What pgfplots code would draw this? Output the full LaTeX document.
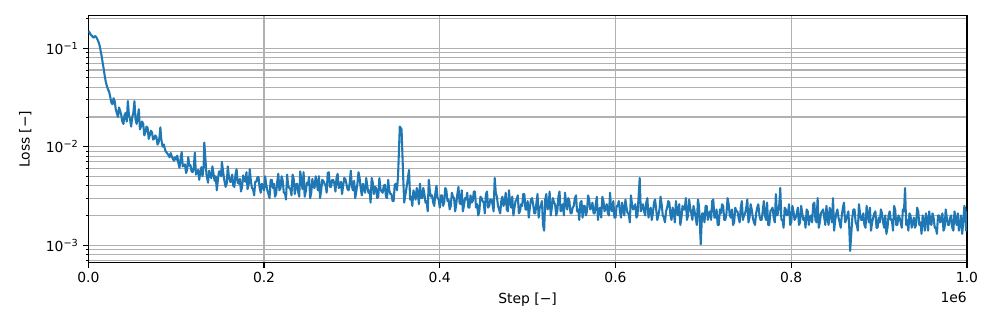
\documentclass[border=0pt]{standalone}
\usepackage{fontspec}
\setmainfont{DejaVu Sans}
\usepackage{pgfplots}
\pgfplotsset{compat=1.18}
\definecolor{mplblue}{HTML}{1F77B4}
\definecolor{mplgrid}{HTML}{B0B0B0}

% training loss, step in units of 1e6
\pgfplotstableread{
x y
0 0.150
0.00125 0.145
0.0025 0.138
0.00375 0.135
0.005 0.130
0.00625 0.128
0.0075 0.133
0.00875 0.131
0.010 0.125
0.01125 0.118
0.0125 0.110
0.01375 0.097
0.015 0.085
0.01625 0.072
0.0175 0.062
0.01875 0.052
0.020 0.045
0.02125 0.041
0.0225 0.038
0.02375 0.036
0.025 0.032
0.02625 0.028
0.0275 0.027
0.02875 0.031
0.030 0.029
0.03125 0.024
0.0325 0.022
0.03375 0.020
0.035 0.025
0.03625 0.023
0.0375 0.021
0.03875 0.018
0.040 0.017
0.04125 0.021
0.0425 0.022
0.04375 0.018
0.045 0.029
0.04625 0.021
0.0475 0.019
0.04875 0.016
0.050 0.020
0.05125 0.022
0.0525 0.029
0.05375 0.019
0.055 0.017
0.05625 0.020
0.0575 0.024
0.05875 0.015
0.060 0.016
0.06125 0.018
0.0625 0.017
0.06375 0.013
0.065 0.014
0.06625 0.016
0.0675 0.0155
0.06875 0.012
0.070 0.013
0.07125 0.0145
0.0725 0.014
0.07375 0.0118
0.075 0.012
0.07625 0.013
0.0775 0.0125
0.07875 0.0105
0.080 0.011
0.081 0.0125
0.082 0.0157
0.083 0.012
0.0845 0.0100
0.086 0.0105
0.0875 0.0092
0.08875 0.0088
0.090 0.0085
0.09125 0.0082
0.0925 0.0078
0.09375 0.0086
0.095 0.0080
0.09625 0.0075
0.0975 0.0072
0.09875 0.0078
0.100 0.0074
0.10125 0.0081
0.1025 0.0068
0.10375 0.0061
0.105 0.0075
0.10625 0.0088
0.1075 0.0063
0.10875 0.0065
0.110 0.0066
0.11125 0.0054
0.1125 0.0058
0.11375 0.0078
0.115 0.0064
0.11625 0.0065
0.1175 0.0056
0.11875 0.0055
0.120 0.0061
0.12125 0.0087
0.1225 0.0052
0.12375 0.0055
0.125 0.0058
0.12625 0.0046
0.1275 0.0055
0.12875 0.0062
0.130 0.0050
0.13125 0.0063
0.132 0.0110
0.1345 0.0052
0.13625 0.0043
0.1375 0.0057
0.13875 0.0050
0.140 0.0048
0.14125 0.0063
0.1425 0.0053
0.14375 0.0045
0.145 0.0050
0.14625 0.0036
0.1475 0.0046
0.14875 0.0056
0.150 0.0056
0.15125 0.0050
0.152 0.0070
0.1545 0.0047
0.15625 0.0039
0.1575 0.0042
0.15875 0.0063
0.160 0.0050
0.16125 0.0044
0.1625 0.0044
0.16375 0.0052
0.165 0.0040
0.16625 0.0039
0.1675 0.0052
0.16875 0.0059
0.170 0.0043
0.17125 0.0042
0.1725 0.0047
0.17375 0.0035
0.175 0.0039
0.17625 0.0051
0.1775 0.0046
0.17875 0.0044
0.180 0.0055
0.18125 0.0037
0.1825 0.0041
0.18375 0.0059
0.185 0.0045
0.18625 0.0038
0.1875 0.0037
0.18875 0.0032
0.190 0.0044
0.19125 0.0044
0.1925 0.0049
0.19375 0.0049
0.195 0.0038
0.19625 0.0034
0.1975 0.0042
0.19875 0.0039
0.200 0.0036
0.20125 0.0050
0.2025 0.0041
0.20375 0.0036
0.205 0.0033
0.20625 0.0030
0.2075 0.0046
0.20875 0.0046
0.210 0.0038
0.21125 0.0042
0.2125 0.0031
0.21375 0.0033
0.215 0.0044
0.21625 0.0053
0.2175 0.0036
0.21875 0.0038
0.220 0.0050
0.22125 0.0045
0.2225 0.0034
0.22375 0.0034
0.225 0.0029
0.22625 0.0052
0.2275 0.0040
0.22875 0.0038
0.230 0.0037
0.23125 0.0032
0.2325 0.0052
0.23375 0.0047
0.235 0.0033
0.23625 0.0041
0.2375 0.0042
0.23875 0.0035
0.240 0.0031
0.24125 0.0056
0.2425 0.0045
0.24375 0.0037
0.245 0.0055
0.24625 0.0031
0.2475 0.0035
0.24875 0.0043
0.250 0.0041
0.25125 0.0049
0.2525 0.0030
0.25375 0.0034
0.255 0.0047
0.25625 0.0039
0.2575 0.0038
0.25875 0.0050
0.260 0.0043
0.26125 0.0036
0.2625 0.0050
0.26375 0.0030
0.265 0.0036
0.26625 0.0046
0.2675 0.0045
0.26875 0.0042
0.270 0.0041
0.27125 0.0034
0.2725 0.0054
0.27375 0.0055
0.275 0.0039
0.27625 0.0039
0.2775 0.0046
0.27875 0.0046
0.280 0.0042
0.28125 0.0035
0.2825 0.0048
0.28375 0.0053
0.285 0.0038
0.28625 0.0039
0.2875 0.0044
0.28875 0.0033
0.290 0.0040
0.29125 0.0048
0.2925 0.0047
0.29375 0.0042
0.295 0.0037
0.29625 0.0036
0.2975 0.0043
0.29875 0.0057
0.300 0.0039
0.30125 0.0036
0.3025 0.0045
0.30375 0.0030
0.305 0.0035
0.30625 0.0042
0.3075 0.0055
0.30875 0.0048
0.310 0.0038
0.31125 0.0032
0.3125 0.0042
0.31375 0.0037
0.315 0.0034
0.31625 0.0048
0.3175 0.0040
0.31875 0.0034
0.320 0.0036
0.32125 0.0027
0.3225 0.0048
0.32375 0.0043
0.325 0.0033
0.32625 0.0039
0.3275 0.0038
0.32875 0.0030
0.330 0.0031
0.33125 0.0048
0.3325 0.0037
0.33375 0.0035
0.335 0.0034
0.33625 0.0040
0.3375 0.0041
0.33875 0.0031
0.340 0.0030
0.34125 0.0046
0.3425 0.0036
0.34375 0.0033
0.345 0.0033
0.34625 0.0028
0.3475 0.0028
0.34875 0.0041
0.350 0.0042
0.35125 0.0036
0.3525 0.0050
0.3545 0.0160
0.3565 0.0150
0.3585 0.0045
0.3595 0.0027
0.361 0.0033
0.363 0.0043
0.365 0.0058
0.36625 0.0029
0.3675 0.0031
0.36875 0.0025
0.370 0.0036
0.37125 0.0033
0.3725 0.0029
0.37375 0.0038
0.375 0.0034
0.37625 0.0026
0.3775 0.0042
0.37875 0.0030
0.380 0.0030
0.38125 0.0038
0.3825 0.0033
0.38375 0.0027
0.385 0.0028
0.38625 0.0022
0.3875 0.0046
0.38875 0.0035
0.390 0.0031
0.39125 0.0032
0.3925 0.0027
0.39375 0.0025
0.395 0.0034
0.39625 0.0040
0.3975 0.0030
0.39875 0.0029
0.400 0.0024
0.40125 0.0032
0.4025 0.0032
0.40375 0.0025
0.405 0.0027
0.40625 0.0038
0.4075 0.0036
0.40875 0.0028
0.410 0.0029
0.41125 0.0023
0.4125 0.0025
0.41375 0.0034
0.415 0.0031
0.41625 0.0030
0.4175 0.0022
0.41875 0.0026
0.420 0.0033
0.42125 0.0039
0.4225 0.0027
0.42375 0.0026
0.425 0.0036
0.42625 0.0022
0.4275 0.0025
0.42875 0.0030
0.430 0.0029
0.43125 0.0034
0.4325 0.0024
0.43375 0.0024
0.435 0.0032
0.43625 0.0027
0.4375 0.0028
0.43875 0.0035
0.440 0.0035
0.44125 0.0024
0.4425 0.0026
0.44375 0.0020
0.445 0.0022
0.44625 0.0031
0.4475 0.0030
0.44875 0.0028
0.450 0.0027
0.45125 0.0021
0.4525 0.0033
0.45375 0.0035
0.455 0.0024
0.45625 0.0025
0.4575 0.0029
0.45875 0.0029
0.460 0.0026
0.46125 0.0022
0.4625 0.0048
0.46375 0.0034
0.465 0.0031
0.46625 0.0025
0.4675 0.0023
0.46875 0.0021
0.470 0.0028
0.47125 0.0031
0.4725 0.0025
0.47375 0.0027
0.475 0.0034
0.47625 0.0023
0.4775 0.0022
0.47875 0.0036
0.480 0.0027
0.48125 0.0024
0.4825 0.0031
0.48375 0.0020
0.485 0.0024
0.48625 0.0028
0.4875 0.0029
0.48875 0.0032
0.490 0.0021
0.49125 0.0022
0.4925 0.0026
0.49375 0.0025
0.495 0.0033
0.49625 0.0033
0.4975 0.0023
0.49875 0.0023
0.500 0.0028
0.50125 0.0019
0.5025 0.0024
0.50375 0.0029
0.505 0.0030
0.50625 0.0026
0.5075 0.0021
0.50875 0.0021
0.510 0.0027
0.51125 0.0033
0.5125 0.0019
0.51375 0.0024
0.515 0.0025
0.51625 0.0028
0.5175 0.0016
0.51875 0.0014
0.520 0.0029
0.52125 0.0033
0.5225 0.0023
0.52375 0.0024
0.525 0.0035
0.52625 0.0020
0.5275 0.0024
0.52875 0.0030
0.530 0.0027
0.53125 0.0026
0.5325 0.0020
0.53375 0.0022
0.535 0.0031
0.53625 0.0035
0.5375 0.0022
0.53875 0.0023
0.540 0.0026
0.54125 0.0020
0.5425 0.0034
0.54375 0.0027
0.545 0.0023
0.54625 0.0030
0.5475 0.0028
0.54875 0.0021
0.550 0.0021
0.55125 0.0024
0.5525 0.0025
0.55375 0.0030
0.555 0.0032
0.55625 0.0022
0.5575 0.0023
0.55875 0.0018
0.560 0.0027
0.56125 0.0028
0.5625 0.0019
0.56375 0.0025
0.565 0.0025
0.56625 0.0020
0.5675 0.0022
0.56875 0.0032
0.570 0.0029
0.57125 0.0023
0.5725 0.0024
0.57375 0.0027
0.575 0.0021
0.57625 0.0021
0.5775 0.0026
0.57875 0.0031
0.580 0.0018
0.58125 0.0023
0.5825 0.0024
0.58375 0.0019
0.585 0.0031
0.58625 0.0028
0.5875 0.0022
0.58875 0.0024
0.590 0.0026
0.59125 0.0021
0.5925 0.0020
0.59375 0.0034
0.595 0.0023
0.59625 0.0022
0.5975 0.0028
0.59875 0.0019
0.600 0.0019
0.60125 0.0025
0.6025 0.0025
0.60375 0.0028
0.605 0.0022
0.60625 0.0019
0.6075 0.0027
0.60875 0.0023
0.610 0.0020
0.61125 0.0029
0.6125 0.0024
0.61375 0.0021
0.615 0.0021
0.61625 0.0017
0.6175 0.0032
0.61875 0.0026
0.620 0.0023
0.62125 0.0024
0.6225 0.0026
0.62375 0.0019
0.625 0.0020
0.62625 0.0031
0.6275 0.0048
0.62875 0.0022
0.630 0.0024
0.63125 0.0026
0.6325 0.0022
0.63375 0.0020
0.635 0.0027
0.63625 0.0030
0.6375 0.0019
0.63875 0.0022
0.640 0.0024
0.64125 0.0018
0.6425 0.0021
0.64375 0.0027
0.645 0.0029
0.64625 0.0023
0.6475 0.0018
0.64875 0.0020
0.650 0.0023
0.65125 0.0031
0.6525 0.0026
0.65375 0.0020
0.655 0.0019
0.65625 0.0017
0.6575 0.0022
0.65875 0.0024
0.660 0.0028
0.66125 0.0027
0.6625 0.0020
0.66375 0.0018
0.665 0.0024
0.66625 0.0022
0.6675 0.0017
0.66875 0.0028
0.670 0.0022
0.67125 0.0020
0.6725 0.0026
0.67375 0.0016
0.675 0.0019
0.67625 0.0025
0.6775 0.0023
0.67875 0.0023
0.680 0.0030
0.68125 0.0018
0.6825 0.0020
0.68375 0.0029
0.685 0.0024
0.68625 0.0021
0.6875 0.0018
0.68875 0.0025
0.690 0.0022
0.69125 0.0019
0.6925 0.0016
0.69375 0.0029
0.695 0.0025
0.697 0.00102
0.6985 0.0021
0.700 0.0021
0.70125 0.0017
0.7025 0.0025
0.70375 0.0025
0.705 0.0018
0.70625 0.0021
0.7075 0.0022
0.70875 0.0018
0.710 0.0028
0.71125 0.0029
0.7125 0.0019
0.71375 0.0019
0.715 0.0023
0.71625 0.0016
0.7175 0.0016
0.71875 0.0023
0.720 0.0021
0.72125 0.0026
0.7225 0.0025
0.72375 0.0018
0.725 0.0018
0.72625 0.0021
0.7275 0.0030
0.72875 0.0026
0.730 0.0020
0.73125 0.0019
0.7325 0.0023
0.73375 0.0016
0.735 0.0017
0.73625 0.0024
0.7375 0.0022
0.73875 0.0022
0.740 0.0019
0.74125 0.0017
0.7425 0.0024
0.74375 0.0028
0.745 0.0018
0.74625 0.0020
0.7475 0.0021
0.74875 0.0024
0.750 0.0029
0.75125 0.0017
0.7525 0.0019
0.75375 0.0026
0.755 0.0023
0.75625 0.0019
0.7575 0.0017
0.75875 0.0016
0.760 0.0021
0.76125 0.0024
0.7625 0.0026
0.76375 0.0020
0.765 0.0018
0.76625 0.0018
0.7675 0.0022
0.76875 0.0028
0.770 0.0020
0.77125 0.0018
0.7725 0.0027
0.77375 0.0016
0.775 0.0016
0.77625 0.0022
0.7775 0.0023
0.77875 0.0024
0.780 0.0019
0.78125 0.0017
0.7825 0.0033
0.78375 0.0020
0.785 0.0021
0.78625 0.0025
0.7875 0.0038
0.78875 0.0018
0.790 0.0018
0.79125 0.0015
0.7925 0.0024
0.79375 0.0023
0.795 0.0020
0.79625 0.0021
0.7975 0.0026
0.79875 0.0016
0.800 0.0017
0.80125 0.0025
0.8025 0.0022
0.80375 0.0018
0.805 0.0019
0.80625 0.0021
0.8075 0.0024
0.80875 0.0016
0.810 0.0017
0.81125 0.0025
0.8125 0.0021
0.81375 0.0018
0.815 0.0019
0.81625 0.0015
0.8175 0.0023
0.81875 0.0022
0.820 0.0016
0.82125 0.0019
0.8225 0.0020
0.82375 0.0017
0.825 0.0026
0.82625 0.0027
0.8275 0.0018
0.82875 0.0017
0.830 0.0030
0.83125 0.0015
0.8325 0.0017
0.83375 0.0021
0.835 0.0022
0.83625 0.0023
0.8375 0.0019
0.83875 0.0016
0.840 0.0025
0.84125 0.0019
0.8425 0.0016
0.84375 0.0024
0.845 0.0021
0.84625 0.0017
0.8475 0.0030
0.84875 0.0014
0.850 0.0018
0.85125 0.0021
0.8525 0.0023
0.85375 0.0019
0.855 0.0017
0.85625 0.0015
0.8575 0.0020
0.85875 0.0024
0.860 0.0027
0.86125 0.0017
0.8625 0.0018
0.86375 0.0020
0.865 0.0022
0.866 0.0015
0.867 0.00087
0.8695 0.0019
0.87075 0.0023
0.872 0.0023
0.87325 0.0017
0.8745 0.0016
0.87575 0.0014
0.877 0.0026
0.87825 0.0021
0.8795 0.0018
0.88075 0.0018
0.882 0.0021
0.88325 0.0016
0.8845 0.0015
0.88575 0.0025
0.887 0.0020
0.88825 0.0017
0.8895 0.0024
0.89075 0.0014
0.892 0.0017
0.89325 0.0019
0.8945 0.0021
0.89575 0.0022
0.897 0.0015
0.89825 0.0015
0.8995 0.0019
0.90075 0.0017
0.902 0.0023
0.90325 0.0021
0.9045 0.0017
0.90575 0.0015
0.907 0.0020
0.90825 0.0013
0.9095 0.0015
0.91075 0.0020
0.912 0.0022
0.91325 0.0018
0.9145 0.0018
0.91575 0.0014
0.917 0.0025
0.91825 0.0023
0.9195 0.0016
0.92075 0.0016
0.922 0.0020
0.92325 0.0019
0.9245 0.0017
0.92575 0.0015
0.927 0.0023
0.92825 0.0022
0.9295 0.0038
0.93075 0.0016
0.932 0.0018
0.93325 0.0014
0.9345 0.0021
0.93575 0.0020
0.937 0.0015
0.93825 0.0017
0.9395 0.0019
0.94075 0.0015
0.942 0.0016
0.94325 0.0024
0.9445 0.0022
0.94575 0.0016
0.947 0.0017
0.94825 0.0013
0.9495 0.0020
0.95075 0.0018
0.952 0.0014
0.95325 0.0021
0.9545 0.0018
0.95575 0.0014
0.957 0.0022
0.95825 0.0017
0.9595 0.0016
0.96075 0.0021
0.962 0.0019
0.96325 0.0015
0.9645 0.0015
0.96575 0.0013
0.967 0.0020
0.96825 0.0020
0.9695 0.0017
0.97075 0.0018
0.972 0.0021
0.97325 0.0014
0.9745 0.0015
0.97575 0.0023
0.977 0.0019
0.97825 0.0016
0.9795 0.0016
0.98075 0.0019
0.982 0.0020
0.98325 0.0015
0.9845 0.0014
0.98575 0.0022
0.987 0.0018
0.98825 0.0016
0.9895 0.0021
0.99075 0.0014
0.992 0.0016
0.99325 0.0020
0.9945 0.0013
0.99575 0.0017
0.997 0.0025
0.998 0.0023
0.999 0.0014
1.000 0.0022
}\losstable

\begin{document}
\begin{tikzpicture}
\useasboundingbox (-63.6pt,-49.7pt) rectangle (654.5pt,189.3pt);
\begin{axis}[
  name=ax,
  scale only axis, width=632.9pt, height=178pt,
  font=\fontsize{10pt}{12pt}\selectfont,
  xmin=0, xmax=1, ymode=log, ymin=6.6e-4, ymax=0.214,
  xtick={0,0.2,0.4,0.6,0.8,1}, xticklabels={0.0,0.2,0.4,0.6,0.8,1.0},
  ytick={1e-3,1e-2,1e-1},
  yticklabels={10\textsuperscript{−3},10\textsuperscript{−2},10\textsuperscript{−1}},
  minor ytick={7e-4,8e-4,9e-4,2e-3,3e-3,4e-3,5e-3,6e-3,7e-3,8e-3,9e-3,
    2e-2,3e-2,4e-2,5e-2,6e-2,7e-2,8e-2,9e-2,2e-1},
  xmajorgrids, ymajorgrids, yminorgrids,
  grid style={mplgrid, line width=0.8pt},
  minor grid style={mplgrid, line width=0.8pt},
  axis line style={black, line width=0.8pt},
  tick align=outside, xtick pos=bottom, ytick pos=left,
  major tick length=3.5pt, minor tick length=2pt,
  every tick/.style={black, line width=0.8pt},
  minor tick style={black, line width=0.6pt},
  xlabel={Step [−]}, ylabel={Loss [−]},
  xlabel style={at={(axis description cs:0.5,0)}, anchor=center, yshift=-26.6pt},
  ylabel style={at={(axis description cs:-0.0717,0.5)}, anchor=center},
]
\addplot[mplblue, line width=1.5pt, line join=round] table[x=x, y=y] {\losstable};
\end{axis}
\node[anchor=east, inner sep=0pt] at ([yshift=-25.2pt]ax.south east) {1e6};
\end{tikzpicture}
\end{document}
